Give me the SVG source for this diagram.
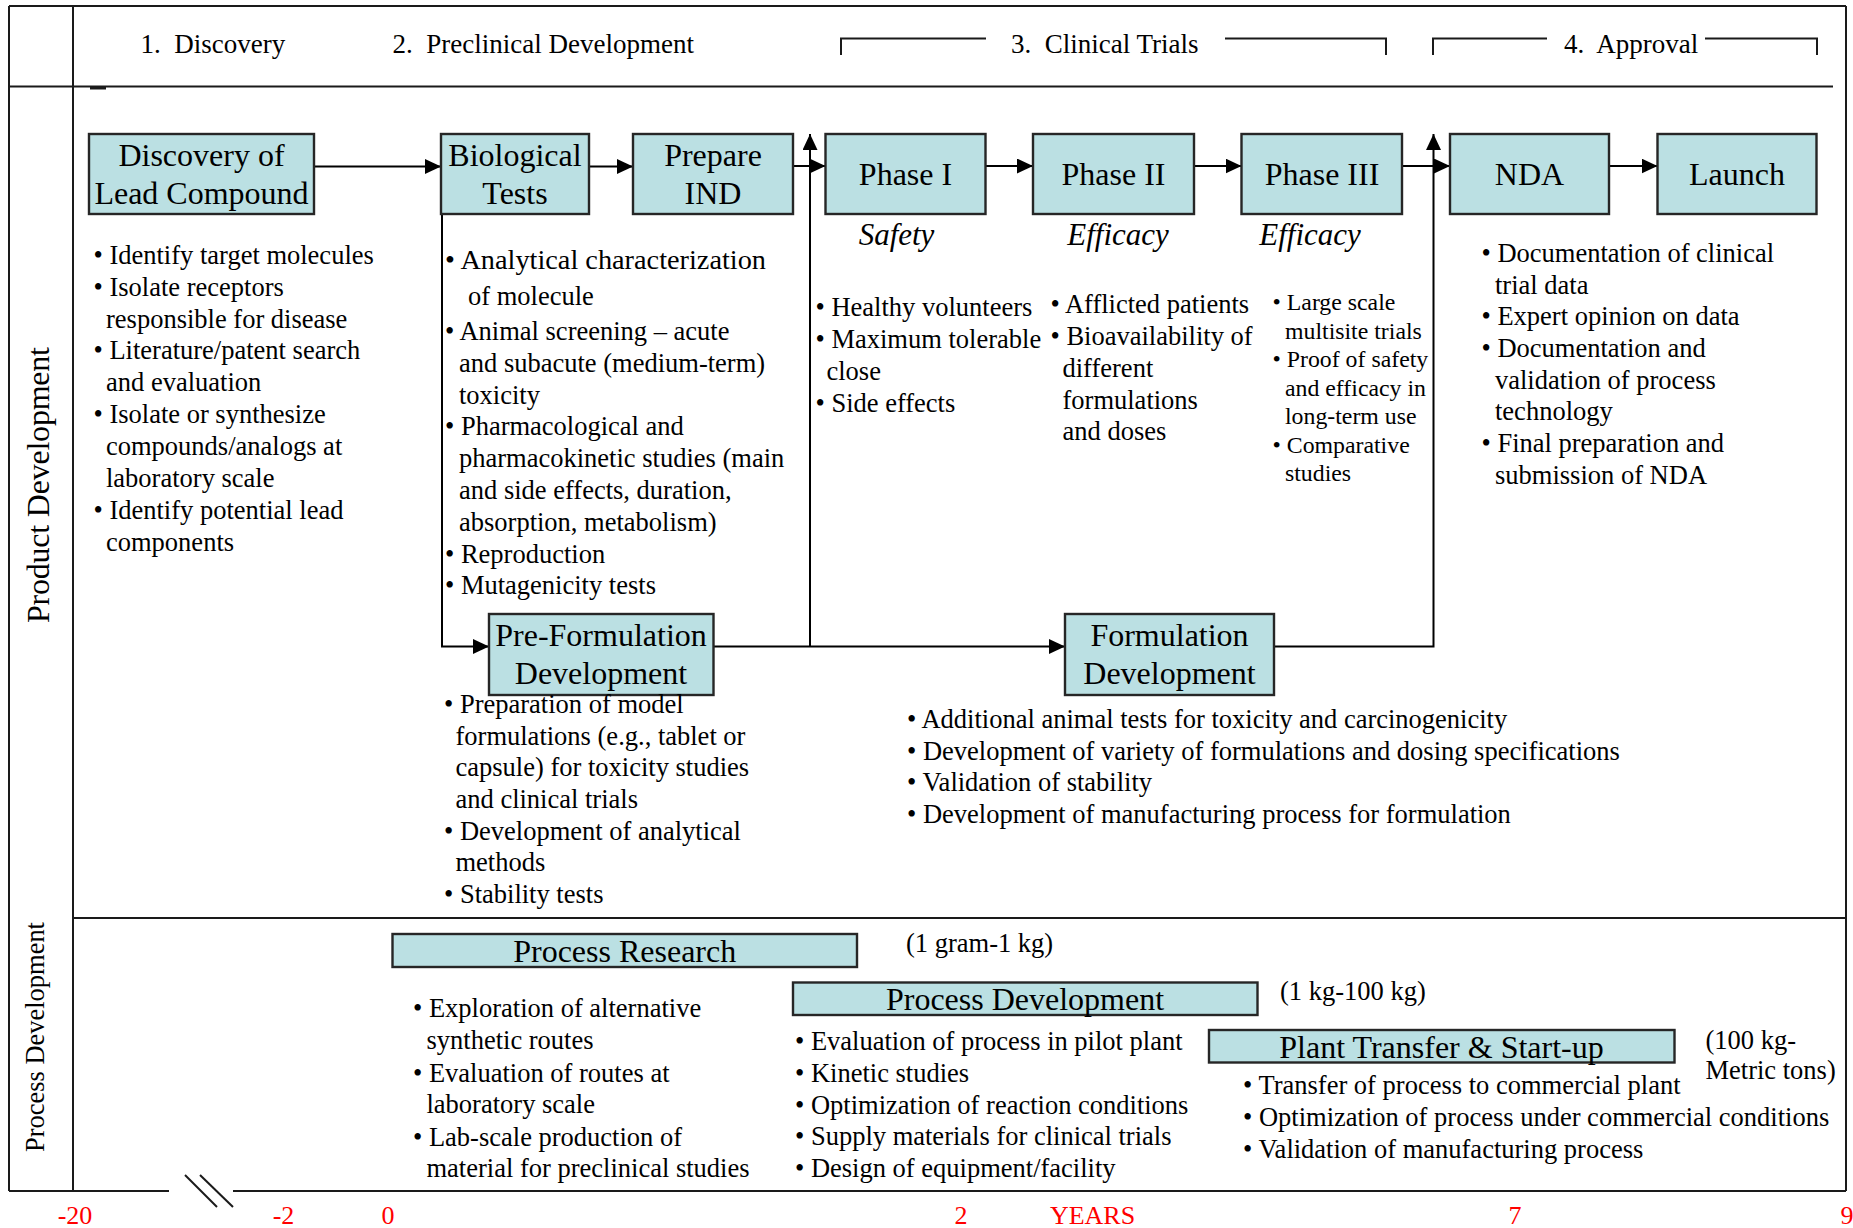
<svg xmlns="http://www.w3.org/2000/svg" width="1853" height="1228" viewBox="0 0 1853 1228">
  <defs>
    <style>
      text { font-family: "Liberation Serif", "Times New Roman", serif; fill: #000; }
      .frame { stroke: #1a1a1a; stroke-width: 2; fill: none; }
      .box { fill: #bbe0e3; stroke: #262626; stroke-width: 2.4; }
      .lbl { font-size: 32px; text-anchor: middle; }
      .head { font-size: 27px; }
      .note { font-size: 26.5px; }
      .small { font-size: 23.8px; }
      .big { font-size: 28.3px; }
      .phase { font-size: 31px; font-style: italic; text-anchor: middle; }
      .conn { stroke: #000; stroke-width: 2; fill: none; }
      .axis { font-size: 26px; fill: #ff0000; text-anchor: middle; }
    </style>
    <marker id="arrow" markerUnits="userSpaceOnUse" markerWidth="16" markerHeight="15" refX="16" refY="7.5" orient="auto">
      <path d="M0,0 L16,7.5 L0,15 z" fill="#000"/>
    </marker>
  </defs>

  <rect width="1853" height="1228" fill="#fff"/>

  <!-- table frame -->
  <g id="frame" class="frame">
    <line x1="9" y1="6" x2="1846" y2="6"/>
    <line x1="9" y1="6" x2="9" y2="1191"/>
    <line x1="1846" y1="6" x2="1846" y2="1191"/>
    <line x1="73" y1="6" x2="73" y2="1191"/>
    <line x1="9" y1="86.5" x2="1833" y2="86.5"/>
    <line x1="73" y1="918" x2="1846" y2="918"/>
    <line x1="9" y1="1191" x2="169" y2="1191"/>
    <line x1="233" y1="1191" x2="1846" y2="1191"/>
    <line x1="185" y1="1175" x2="217" y2="1207"/>
    <line x1="200" y1="1175" x2="233" y2="1207"/>
    <line x1="90" y1="88" x2="106" y2="88" stroke-width="3"/>
  </g>

  <!-- stage header -->
  <g id="header">
    <text class="head" x="140.5" y="53">1.&#160; Discovery</text>
    <text class="head" x="392.5" y="53">2.&#160; Preclinical Development</text>
    <text class="head" x="1011" y="52.5">3.&#160; Clinical Trials</text>
    <text class="head" x="1564" y="52.5">4.&#160; Approval</text>
    <path class="frame" d="M841,55 V38.5 H986 M1225,38.5 H1386 V55"/>
    <path class="frame" d="M1433,55 V38.5 H1547 M1705,38.5 H1817 V55"/>
  </g>

  <!-- row labels -->
  <g id="row-labels">
    <text transform="translate(49,485) rotate(-90)" font-size="32" text-anchor="middle" textLength="276" lengthAdjust="spacing">Product Development</text>
    <text transform="translate(44,1037) rotate(-90)" font-size="26.5" text-anchor="middle" textLength="230" lengthAdjust="spacing">Process Development</text>
  </g>

  <!-- connectors -->
  <g id="connectors" class="conn">
    <line x1="314" y1="166.5" x2="441" y2="166.5" marker-end="url(#arrow)"/>
    <line x1="589" y1="166.5" x2="633" y2="166.5" marker-end="url(#arrow)"/>
    <line x1="793" y1="166" x2="825.5" y2="166" marker-end="url(#arrow)"/>
    <line x1="985.5" y1="166" x2="1033" y2="166" marker-end="url(#arrow)"/>
    <line x1="1194" y1="166" x2="1241.5" y2="166" marker-end="url(#arrow)"/>
    <line x1="1402" y1="166" x2="1450" y2="166" marker-end="url(#arrow)"/>
    <line x1="1609" y1="166" x2="1657.5" y2="166" marker-end="url(#arrow)"/>
    <path d="M442,214 V646.5 H489" marker-end="url(#arrow)"/>
    <line x1="713.5" y1="646.5" x2="1065" y2="646.5" marker-end="url(#arrow)"/>
    <line x1="810" y1="646.5" x2="810" y2="134" marker-end="url(#arrow)"/>
    <path d="M1274,646.5 H1433.5 V134" marker-end="url(#arrow)"/>
  </g>

  <!-- product development stages -->
  <g id="node-discovery">
    <rect class="box" x="89" y="134" width="225" height="80"/>
    <text class="lbl" x="201.5" y="166">Discovery of</text>
    <text class="lbl" x="201.5" y="204">Lead Compound</text>
    <text class="note">
      <tspan x="93.5" y="263.5">• Identify target molecules</tspan>
      <tspan x="93.5" y="295.5">• Isolate receptors</tspan>
      <tspan x="106" y="327.5">responsible for disease</tspan>
      <tspan x="93.5" y="359">• Literature/patent search</tspan>
      <tspan x="106" y="391">and evaluation</tspan>
      <tspan x="93.5" y="423">• Isolate or synthesize</tspan>
      <tspan x="106" y="455">compounds/analogs at</tspan>
      <tspan x="106" y="487">laboratory scale</tspan>
      <tspan x="93.5" y="519">• Identify potential lead</tspan>
      <tspan x="106" y="551">components</tspan>
    </text>
  </g>

  <g id="node-biological-tests">
    <rect class="box" x="441" y="134" width="148" height="80"/>
    <text class="lbl" x="515" y="166">Biological</text>
    <text class="lbl" x="515" y="204">Tests</text>
    <text class="big" x="445" y="269">• Analytical characterization</text>
    <text class="note">
      <tspan x="468" y="305">of molecule</tspan>
      <tspan x="445" y="340">• Animal screening – acute</tspan>
      <tspan x="459" y="372">and subacute (medium-term)</tspan>
      <tspan x="459" y="403.5">toxicity</tspan>
      <tspan x="445" y="435">• Pharmacological and</tspan>
      <tspan x="459" y="467">pharmacokinetic studies (main</tspan>
      <tspan x="459" y="499">and side effects, duration,</tspan>
      <tspan x="459" y="530.5">absorption, metabolism)</tspan>
      <tspan x="445" y="562.5">• Reproduction</tspan>
      <tspan x="445" y="594">• Mutagenicity tests</tspan>
    </text>
  </g>

  <g id="node-prepare-ind">
    <rect class="box" x="633" y="134" width="160" height="80"/>
    <text class="lbl" x="713" y="166">Prepare</text>
    <text class="lbl" x="713" y="204">IND</text>
  </g>

  <g id="node-phase-1">
    <rect class="box" x="825.5" y="134" width="160" height="80"/>
    <text class="lbl" x="905.5" y="185">Phase I</text>
    <text class="phase" x="896.5" y="245">Safety</text>
    <text class="note">
      <tspan x="815.5" y="316">• Healthy volunteers</tspan>
      <tspan x="815.5" y="348">• Maximum tolerable</tspan>
      <tspan x="826.5" y="380">close</tspan>
      <tspan x="815.5" y="412">• Side effects</tspan>
    </text>
  </g>

  <g id="node-phase-2">
    <rect class="box" x="1033" y="134" width="161" height="80"/>
    <text class="lbl" x="1113.5" y="185">Phase II</text>
    <text class="phase" x="1118" y="245">Efficacy</text>
    <text class="note">
      <tspan x="1050.5" y="313">• Afflicted patients</tspan>
      <tspan x="1050.5" y="345">• Bioavailability of</tspan>
      <tspan x="1062.5" y="377">different</tspan>
      <tspan x="1062.5" y="408.5">formulations</tspan>
      <tspan x="1062.5" y="440">and doses</tspan>
    </text>
  </g>

  <g id="node-phase-3">
    <rect class="box" x="1241.5" y="134" width="160.5" height="80"/>
    <text class="lbl" x="1322" y="185">Phase III</text>
    <text class="phase" x="1310" y="245">Efficacy</text>
    <text class="small">
      <tspan x="1272.5" y="310">• Large scale</tspan>
      <tspan x="1285" y="338.5">multisite trials</tspan>
      <tspan x="1272.5" y="367">• Proof of safety</tspan>
      <tspan x="1285" y="395.5">and efficacy in</tspan>
      <tspan x="1285" y="424">long-term use</tspan>
      <tspan x="1272.5" y="453">• Comparative</tspan>
      <tspan x="1285" y="481">studies</tspan>
    </text>
  </g>

  <g id="node-nda">
    <rect class="box" x="1450" y="134" width="159" height="80"/>
    <text class="lbl" x="1529.5" y="185">NDA</text>
    <text class="note">
      <tspan x="1481.5" y="262">• Documentation of clinical</tspan>
      <tspan x="1495" y="293.5">trial data</tspan>
      <tspan x="1481.5" y="325">• Expert opinion on data</tspan>
      <tspan x="1481.5" y="357">• Documentation and</tspan>
      <tspan x="1495" y="388.5">validation of process</tspan>
      <tspan x="1495" y="420">technology</tspan>
      <tspan x="1481.5" y="452">• Final preparation and</tspan>
      <tspan x="1495" y="484">submission of NDA</tspan>
    </text>
  </g>

  <g id="node-launch">
    <rect class="box" x="1657.5" y="134" width="159" height="80"/>
    <text class="lbl" x="1737" y="185">Launch</text>
  </g>

  <g id="node-pre-formulation">
    <rect class="box" x="489" y="614" width="224.5" height="81"/>
    <text class="lbl" x="601" y="646">Pre-Formulation</text>
    <text class="lbl" x="601" y="683.5">Development</text>
    <text class="note">
      <tspan x="444" y="712.5">• Preparation of model</tspan>
      <tspan x="455.5" y="744.5">formulations (e.g., tablet or</tspan>
      <tspan x="455.5" y="776">capsule) for toxicity studies</tspan>
      <tspan x="455.5" y="807.5">and clinical trials</tspan>
      <tspan x="444" y="839.5">• Development of analytical</tspan>
      <tspan x="455.5" y="871">methods</tspan>
      <tspan x="444" y="903">• Stability tests</tspan>
    </text>
  </g>

  <g id="node-formulation">
    <rect class="box" x="1065" y="614" width="209" height="81"/>
    <text class="lbl" x="1169.5" y="646">Formulation</text>
    <text class="lbl" x="1169.5" y="683.5">Development</text>
    <text class="note">
      <tspan x="907" y="727.5">• Additional animal tests for toxicity and carcinogenicity</tspan>
      <tspan x="907" y="759.5">• Development of variety of formulations and dosing specifications</tspan>
      <tspan x="907" y="791">• Validation of stability</tspan>
      <tspan x="907" y="823">• Development of manufacturing process for formulation</tspan>
    </text>
  </g>

  <!-- process development bars -->
  <g id="node-process-research">
    <rect class="box" x="392.5" y="934" width="464.5" height="33"/>
    <text class="lbl" x="624.7" y="961.5">Process Research</text>
    <text class="note" x="906" y="951.5">(1 gram-1 kg)</text>
    <text class="note">
      <tspan x="413" y="1016.5">• Exploration of alternative</tspan>
      <tspan x="426.5" y="1048.5">synthetic routes</tspan>
      <tspan x="413" y="1081.5">• Evaluation of routes at</tspan>
      <tspan x="426.5" y="1113">laboratory scale</tspan>
      <tspan x="413" y="1146">• Lab-scale production of</tspan>
      <tspan x="426.5" y="1177">material for preclinical studies</tspan>
    </text>
  </g>

  <g id="node-process-development">
    <rect class="box" x="793" y="982.5" width="464.5" height="32.5"/>
    <text class="lbl" x="1025" y="1010">Process Development</text>
    <text class="note" x="1280" y="999.5">(1 kg-100 kg)</text>
    <text class="note">
      <tspan x="795" y="1049.5">• Evaluation of process in pilot plant</tspan>
      <tspan x="795" y="1081.5">• Kinetic studies</tspan>
      <tspan x="795" y="1113.5">• Optimization of reaction conditions</tspan>
      <tspan x="795" y="1145">• Supply materials for clinical trials</tspan>
      <tspan x="795" y="1177">• Design of equipment/facility</tspan>
    </text>
  </g>

  <g id="node-plant-transfer">
    <rect class="box" x="1209" y="1030" width="465.5" height="32.5"/>
    <text class="lbl" x="1441.5" y="1057.5">Plant Transfer &amp; Start-up</text>
    <text class="note">
      <tspan x="1705.5" y="1048.5">(100 kg-</tspan>
      <tspan x="1705.5" y="1079">Metric tons)</tspan>
    </text>
    <text class="note">
      <tspan x="1243" y="1094">• Transfer of process to commercial plant</tspan>
      <tspan x="1243" y="1126">• Optimization of process under commercial conditions</tspan>
      <tspan x="1243" y="1157.5">• Validation of manufacturing process</tspan>
    </text>
  </g>

  <!-- time axis -->
  <g id="axis">
    <text class="axis" x="75" y="1224">-20</text>
    <text class="axis" x="283.5" y="1224">-2</text>
    <text class="axis" x="388" y="1224">0</text>
    <text class="axis" x="961" y="1224">2</text>
    <text class="axis" x="1092.5" y="1224">YEARS</text>
    <text class="axis" x="1515" y="1224">7</text>
    <text class="axis" x="1847" y="1224" text-anchor="start">9</text>
  </g>
</svg>
